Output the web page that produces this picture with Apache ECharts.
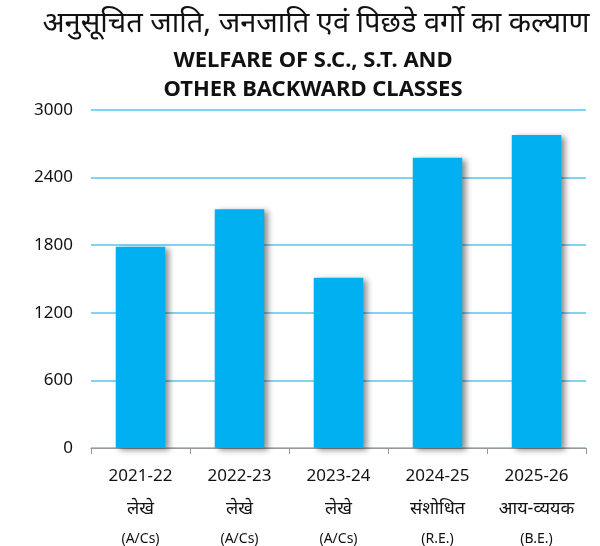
<!DOCTYPE html>
<html>
<head>
<meta charset="utf-8">
<script src="https://cdn.jsdelivr.net/npm/echarts@6/dist/echarts.min.js"></script>
<style>
    html, body { margin: 0; padding: 0; background: #fff; }
    #chart { width: 600px; height: 546px; }
</style>
</head>
<body>
<div id="chart"></div>
<script>
    // data
    var years = ['2021-22', '2022-23', '2023-24', '2024-25', '2025-26'];
    var stageHi = ['लेखे', 'लेखे', 'लेखे', 'संशोधित', 'आय-व्ययक'];
    var stageEn = ['(A/Cs)', '(A/Cs)', '(A/Cs)', '(R.E.)', '(B.E.)'];
    var amounts = [1787, 2119, 1511, 2577, 2778];
    var yTicks = [0, 600, 1200, 1800, 2400, 3000];

    var font = '"Noto Sans", "Open Sans", sans-serif';

    var chart = echarts.init(document.getElementById('chart'));
    chart.setOption({
        animation: false,
        title: [
            {
                text: 'अनुसूचित जाति, जनजाति एवं पिछडे वर्गो का कल्याण',
                left: 311, top: 4, textAlign: 'center',
                textStyle: { fontFamily: font, fontSize: 29, fontWeight: 'normal', color: '#111' }
            },
            {
                text: 'WELFARE OF S.C., S.T. AND\nOTHER BACKWARD CLASSES',
                left: 308, top: 41, textAlign: 'center',
                textStyle: { fontFamily: font, fontSize: 22, fontWeight: 'bold', color: '#111', lineHeight: 29 }
            }
        ],
        grid: { left: 91, right: 14, top: 110, bottom: 98 },
        xAxis: {
            type: 'category',
            data: years,
            axisLine: { lineStyle: { color: '#999', width: 1 } },
            axisTick: { show: true, length: 6, lineStyle: { color: '#999' } },
            axisLabel: {
                margin: 13,
                interval: 0,
                formatter: function (v, i) {
                    return '{y|' + v + '}\n{h|' + stageHi[i] + '}\n{e|' + stageEn[i] + '}';
                },
                rich: {
                    y: { fontFamily: font, fontSize: 17, color: '#111', lineHeight: 30 },
                    h: { fontFamily: font, fontSize: 18, color: '#111', lineHeight: 36 },
                    e: { fontFamily: font, fontSize: 14, color: '#111', lineHeight: 24 }
                }
            }
        },
        yAxis: {
            type: 'value',
            min: yTicks[0],
            max: yTicks[yTicks.length - 1],
            interval: 600,
            axisLine: { show: false },
            axisTick: { show: false },
            axisLabel: {
                margin: 18, fontFamily: font, fontSize: 17, color: '#111',
                formatter: function (v) { return String(v); }
            },
            splitLine: { lineStyle: { color: '#7fd4f5', width: 2 } }
        },
        series: [{
            type: 'bar',
            data: amounts,
            barWidth: '50%',
            itemStyle: {
                color: '#00b0f0',
                shadowColor: 'rgba(0,0,0,0.45)',
                shadowBlur: 6,
                shadowOffsetX: 4,
                shadowOffsetY: 2
            }
        }]
    });
</script>
</body>
</html>
